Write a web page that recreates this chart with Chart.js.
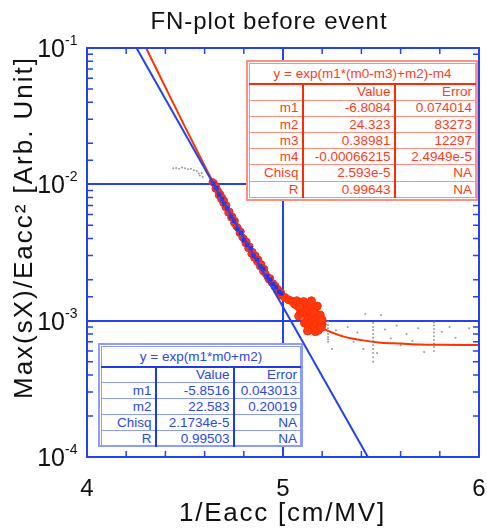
<!DOCTYPE html>
<html>
<head>
<meta charset="utf-8">
<script src="https://cdn.jsdelivr.net/npm/chart.js@4.4.1/dist/chart.umd.min.js"></script>
<style>
  html, body { margin: 0; padding: 0; background: #fff; }
  #wrap { position: relative; width: 487px; height: 528px; }
  canvas { display: block; }
  .fit { position: absolute; box-sizing: border-box; background: #fff; padding: 1px;
         font: 13.5px "Liberation Sans", Arial, sans-serif; }
  .fit table { width: 100%; height: 100%; border-collapse: collapse; table-layout: fixed; }
  .fit td { border-top: 1px solid; border-bottom: 1px solid; padding: 0 3px 0 0; text-align: right;
            white-space: nowrap; overflow: hidden; line-height: 1; }
  .fit tr { height: 16px; }
  .fit tr.ttl { height: 20px; }
  .fit tr.ttl td { text-align: center; padding: 0; border-bottom-width: 2px; }

  .fit.red { border: 2px solid #ff8f80; color: #ff3b20; }
  .fit.red table { border: 1px solid #ff8f80; }
  .fit.red td { border-color: #ff8f80; }
  .fit.red td.c1, .fit.red td.c2 { border-right: 2px solid #ff2a00; }
  .fit.red tr.ttl td { border-bottom-color: #ff2a00; }

  .fit.blue { border: 2px solid #8d9cff; color: #2b47e8; }
  .fit.blue table { border: 1px solid #8d9cff; }
  .fit.blue td { border-color: #8d9cff; }
  .fit.blue td.c1, .fit.blue td.c2 { border-right: 2px solid #1f3ae6; }
  .fit.blue tr.ttl td { border-bottom-color: #1f3ae6; }
</style>
</head>
<body>
<div id="wrap">
  <canvas id="fnChart" width="487" height="528"></canvas>
  <div class="fit red" id="redFit" style="left:246px; top:60px; width:232px; height:141px;"></div>
  <div class="fit blue" id="blueFit" style="left:98px; top:343px; width:205px; height:104px;"></div>
</div>
<script>
// FN-plot before event: data
const BLUE = '#2342f0';
const RED = '#ff3300';
const FONT = '"Liberation Sans", Arial, sans-serif';

// fit lines
const blueLineX = [4.2527, 5.4330];
const blueLineY = [0.1, 0.0001];

const redCurveX = [4.30, 4.40, 4.50, 4.60, 4.70, 4.80, 4.90, 5.00, 5.10, 5.20, 5.30, 5.40, 5.50, 5.60, 5.70, 5.80, 6.00];
const redCurveY = [0.101, 0.0515, 0.0264, 0.0137, 0.00725, 0.0040, 0.00235, 0.00152, 0.00110, 0.00088,
                   0.00077, 0.00072, 0.00069, 0.00068, 0.000669, 0.000666, 0.000663];

// measured points (red)
const redX = [4.640, 4.648, 4.655, 4.660, 4.668, 4.672, 4.680, 4.684, 4.690, 4.695, 4.700, 4.706, 4.712,
              4.720, 4.728, 4.735, 4.742, 4.750, 4.755, 4.762, 4.770, 4.778, 4.785, 4.792, 4.800, 4.808,
              4.815, 4.822, 4.830, 4.838, 4.845, 4.852, 4.860, 4.868, 4.875, 4.882, 4.890, 4.898, 4.905,
              4.912, 4.920, 4.928, 4.935, 4.942, 4.950, 4.956, 4.962, 4.968, 4.975, 4.982, 4.990, 4.995,
              5.010, 5.030, 5.050, 5.060, 5.070, 5.080, 5.090, 5.090, 5.100, 5.100, 5.110, 5.110, 5.120,
              5.120, 5.120, 5.130, 5.130, 5.130, 5.140, 5.140, 5.140, 5.150, 5.150, 5.150, 5.160, 5.160,
              5.160, 5.170, 5.170, 5.180, 5.180, 5.180, 5.190, 5.190, 5.200, 5.200,
              5.105, 5.125, 5.145, 5.165, 5.175, 5.195, 5.085, 5.155];
const redY = [0.0104, 0.0102, 0.0093, 0.0096, 0.0090, 0.0083, 0.0085, 0.0078, 0.0080, 0.0073, 0.0076, 0.0068, 0.0070,
              0.0062, 0.0063, 0.0057, 0.0058, 0.0052, 0.0054, 0.0049, 0.0048, 0.0044, 0.0045, 0.0041, 0.0040, 0.0037,
              0.0038, 0.0034, 0.0035, 0.0031, 0.0032, 0.0029, 0.0030, 0.0027, 0.0028, 0.0025, 0.0026, 0.0023, 0.0024,
              0.0022, 0.0021, 0.0020, 0.00205, 0.0019, 0.00188, 0.00178, 0.00180, 0.00168, 0.00170, 0.00160, 0.00162, 0.00152,
              0.00148, 0.00142, 0.00138, 0.00132, 0.00140, 0.00108, 0.00136, 0.00115, 0.00128, 0.00118, 0.00124, 0.00096,
              0.00112, 0.00131, 0.00100, 0.00120, 0.00104, 0.00090, 0.00115, 0.00097, 0.00131, 0.00108, 0.00126,
              0.00086, 0.00100, 0.00092, 0.00120, 0.00112, 0.00095, 0.00104, 0.00088, 0.00085, 0.00098, 0.00110,
              0.00094, 0.00101,
              0.00138, 0.00084, 0.00140, 0.00083, 0.00128, 0.00089, 0.00126, 0.00116];

// measured points (blue, linear fit range)
const blueX = [4.645, 4.660, 4.675, 4.690, 4.700, 4.715, 4.735, 4.750, 4.768, 4.785, 4.800, 4.818,
               4.835, 4.850, 4.868, 4.885, 4.900, 4.918, 4.935, 4.950, 4.965, 4.980, 4.992];
const blueY = [0.0101, 0.0094, 0.0084, 0.0078, 0.0072, 0.0067, 0.0058, 0.0054, 0.0047, 0.0044, 0.0039, 0.0036,
               0.0034, 0.0030, 0.0028, 0.0025, 0.0024, 0.00212, 0.0020, 0.00185, 0.00176, 0.00163, 0.00158];

// points outside the fits (gray)
const grayX = [4.440, 4.455, 4.470, 4.485, 4.500, 4.515, 4.530, 4.545, 4.560, 4.570, 4.575, 4.585, 4.590,
               5.23, 5.23, 5.23, 5.23, 5.23, 5.23, 5.23, 5.23,
               5.46, 5.46, 5.46, 5.46, 5.46, 5.46, 5.46, 5.46, 5.46, 5.46, 5.46,
               5.77, 5.77, 5.77, 5.77, 5.77, 5.77, 5.77, 5.77, 5.77,
               5.27, 5.30, 5.33, 5.36, 5.38, 5.41, 5.42, 5.50, 5.52, 5.55, 5.58, 5.60, 5.63, 5.66,
               5.69, 5.72, 5.81, 5.85, 5.88, 5.95, 5.25, 5.48];
const grayY = [0.0131, 0.0132, 0.0130, 0.0133, 0.0131, 0.0129, 0.0130, 0.0127, 0.0125, 0.0120, 0.0116, 0.0121, 0.0113,
               0.00098, 0.00093, 0.00088, 0.00084, 0.00080, 0.00076, 0.00073, 0.00070,
               0.00096, 0.00090, 0.00085, 0.00080, 0.00075, 0.00071, 0.00066, 0.00062, 0.00058, 0.00054, 0.00050,
               0.00097, 0.00092, 0.00087, 0.00082, 0.00077, 0.00072, 0.00068, 0.00064, 0.00060,
               0.00085, 0.00078, 0.00090, 0.00070, 0.00082, 0.00062, 0.00112, 0.00110, 0.00086, 0.00074, 0.00092,
               0.00066, 0.00080, 0.00071, 0.00088, 0.00059, 0.00083, 0.00090, 0.00075, 0.00088, 0.00062, 0.00058];

// fit result tables
const redFitTitle = 'y = exp(m1*(m0-m3)+m2)-m4';
const redFitRows = [
  ['', 'Value', 'Error'],
  ['m1', '-6.8084', '0.074014'],
  ['m2', '24.323', '83273'],
  ['m3', '0.38981', '12297'],
  ['m4', '-0.00066215', '2.4949e-5'],
  ['Chisq', '2.593e-5', 'NA'],
  ['R', '0.99643', 'NA']
];
const blueFitTitle = 'y = exp(m1*m0+m2)';
const blueFitRows = [
  ['', 'Value', 'Error'],
  ['m1', '-5.8516', '0.043013'],
  ['m2', '22.583', '0.20019'],
  ['Chisq', '2.1734e-5', 'NA'],
  ['R', '0.99503', 'NA']
];

function buildTable(id, title, rows, widths) {
  let html = '<table><colgroup>' + widths.map(w => '<col style="width:' + w + 'px">').join('') + '</colgroup>';
  html += '<tr class="ttl"><td colspan="3">' + title + '</td></tr>';
  rows.forEach(r => {
    html += '<tr><td class="c1">' + r[0] + '</td><td class="c2">' + r[1] + '</td><td>' + r[2] + '</td></tr>';
  });
  document.getElementById(id).innerHTML = html + '</table>';
}
buildTable('redFit', redFitTitle, redFitRows, [53, 92, 81]);
buildTable('blueFit', blueFitTitle, blueFitRows, [54, 78, 67]);

const pts = (xs, ys) => xs.map((x, i) => ({ x: x, y: ys[i] }));
const isDecade = v => Math.abs(Math.log10(v) - Math.round(Math.log10(v))) < 1e-6;

// draw text spread to the width seen in the reference
function spacedText(ctx, text, x, y, size, width) {
  ctx.font = size + 'px ' + FONT;
  ctx.letterSpacing = '0px';
  const w = ctx.measureText(text).width;
  const ls = (width - w) / text.length;
  ctx.letterSpacing = ls + 'px';
  ctx.fillText(text, x + ls / 2, y);
  ctx.letterSpacing = '0px';
}

const axisDecor = {
  id: 'axisDecor',
  afterDraw(chart) {
    const ctx = chart.ctx;
    const a = chart.chartArea;
    const xs = chart.scales.x;
    const ys = chart.scales.y;
    ctx.save();

    // frame
    ctx.strokeStyle = BLUE;
    ctx.lineWidth = 2;
    ctx.strokeRect(a.left, a.top, a.right - a.left, a.bottom - a.top);

    // inward minor ticks
    ctx.lineWidth = 1.5;
    ctx.beginPath();
    ys.ticks.forEach(t => {
      if (isDecade(t.value)) return;
      const py = ys.getPixelForValue(t.value);
      ctx.moveTo(a.left, py); ctx.lineTo(a.left + 6, py);
      ctx.moveTo(a.right, py); ctx.lineTo(a.right - 6, py);
    });
    xs.ticks.forEach(t => {
      if (Math.abs(t.value - Math.round(t.value)) < 1e-6) return;
      const px = xs.getPixelForValue(t.value);
      ctx.moveTo(px, a.bottom); ctx.lineTo(px, a.bottom - 6);
      ctx.moveTo(px, a.top); ctx.lineTo(px, a.top + 6);
    });
    ctx.stroke();

    ctx.fillStyle = '#111';
    ctx.textBaseline = 'alphabetic';

    // y tick labels 10^n
    ys.ticks.forEach(t => {
      if (!isDecade(t.value)) return;
      const py = ys.getPixelForValue(t.value);
      const e = Math.round(Math.log10(t.value));
      ctx.textAlign = 'right';
      ctx.font = '25px ' + FONT;
      ctx.fillText('10', 65, py + 9);
      ctx.textAlign = 'left';
      ctx.font = '14px ' + FONT;
      ctx.fillText(String(e), 65, py - 3);
    });

    // x tick labels
    ctx.textAlign = 'center';
    ctx.font = '24px ' + FONT;
    xs.ticks.forEach(t => {
      if (Math.abs(t.value - Math.round(t.value)) > 1e-6) return;
      ctx.fillText(String(Math.round(t.value)), xs.getPixelForValue(t.value), 496);
    });

    // titles
    spacedText(ctx, 'FN-plot before event', 268.5, 29, 24, 237);
    spacedText(ctx, '1/Eacc [cm/MV]', 281.5, 521, 26, 207);
    ctx.save();
    ctx.translate(32, 228.5);
    ctx.rotate(-Math.PI / 2);
    spacedText(ctx, 'Max(sX)/Eacc\u00b2 [Arb. Unit]', 0, 0, 26, 343);
    ctx.restore();

    ctx.restore();
  }
};

const ctx = document.getElementById('fnChart').getContext('2d');

new Chart(ctx, {
  type: 'scatter',
  data: {
    datasets: [
      {
        label: 'linear fit',
        data: pts(blueLineX, blueLineY),
        showLine: true,
        borderColor: BLUE,
        borderWidth: 2,
        pointRadius: 0,
        order: 1
      },
      {
        label: 'blue points',
        data: pts(blueX, blueY),
        pointStyle: 'rect',
        pointRadius: 3,
        backgroundColor: '#2236e0',
        borderWidth: 0,
        order: 2
      },
      {
        label: 'red points',
        data: pts(redX, redY),
        pointRadius: c => (c.raw && c.raw.x > 5) ? 4 : 3.4,
        backgroundColor: '#ff3a10',
        borderColor: c => (c.raw && c.raw.x > 5) ? '#ff3000' : '#d8283a',
        borderWidth: 1,
        order: 3
      },
      {
        label: 'offset fit',
        data: pts(redCurveX, redCurveY),
        showLine: true,
        borderColor: RED,
        borderWidth: 2,
        pointRadius: 0,
        cubicInterpolationMode: 'monotone',
        order: 4
      },
      {
        label: 'other points',
        data: pts(grayX, grayY),
        pointRadius: 1,
        backgroundColor: '#9a9a9a',
        borderWidth: 0,
        order: 5
      }
    ]
  },
  options: {
    responsive: false,
    animation: false,
    layout: { padding: { top: 48, right: 8, left: 0, bottom: 0 } },
    plugins: {
      legend: { display: false },
      tooltip: { enabled: false }
    },
    scales: {
      x: {
        type: 'linear',
        min: 4,
        max: 6,
        ticks: { display: false, stepSize: 0.2 },
        grid: {
          drawTicks: false,
          lineWidth: 2,
          color: c => (c.tick && Math.abs(c.tick.value - 5) < 1e-6) ? BLUE : 'rgba(0,0,0,0)'
        },
        border: { color: BLUE, width: 2 },
        afterFit: s => { s.height = 71; }
      },
      y: {
        type: 'logarithmic',
        min: 0.0001,
        max: 0.1,
        ticks: { display: false },
        grid: {
          drawTicks: false,
          lineWidth: 2,
          color: c => (c.tick && isDecade(c.tick.value)) ? BLUE : 'rgba(0,0,0,0)'
        },
        border: { color: BLUE, width: 2 },
        afterFit: s => { s.width = 87; }
      }
    }
  },
  plugins: [axisDecor]
});
</script>
</body>
</html>
